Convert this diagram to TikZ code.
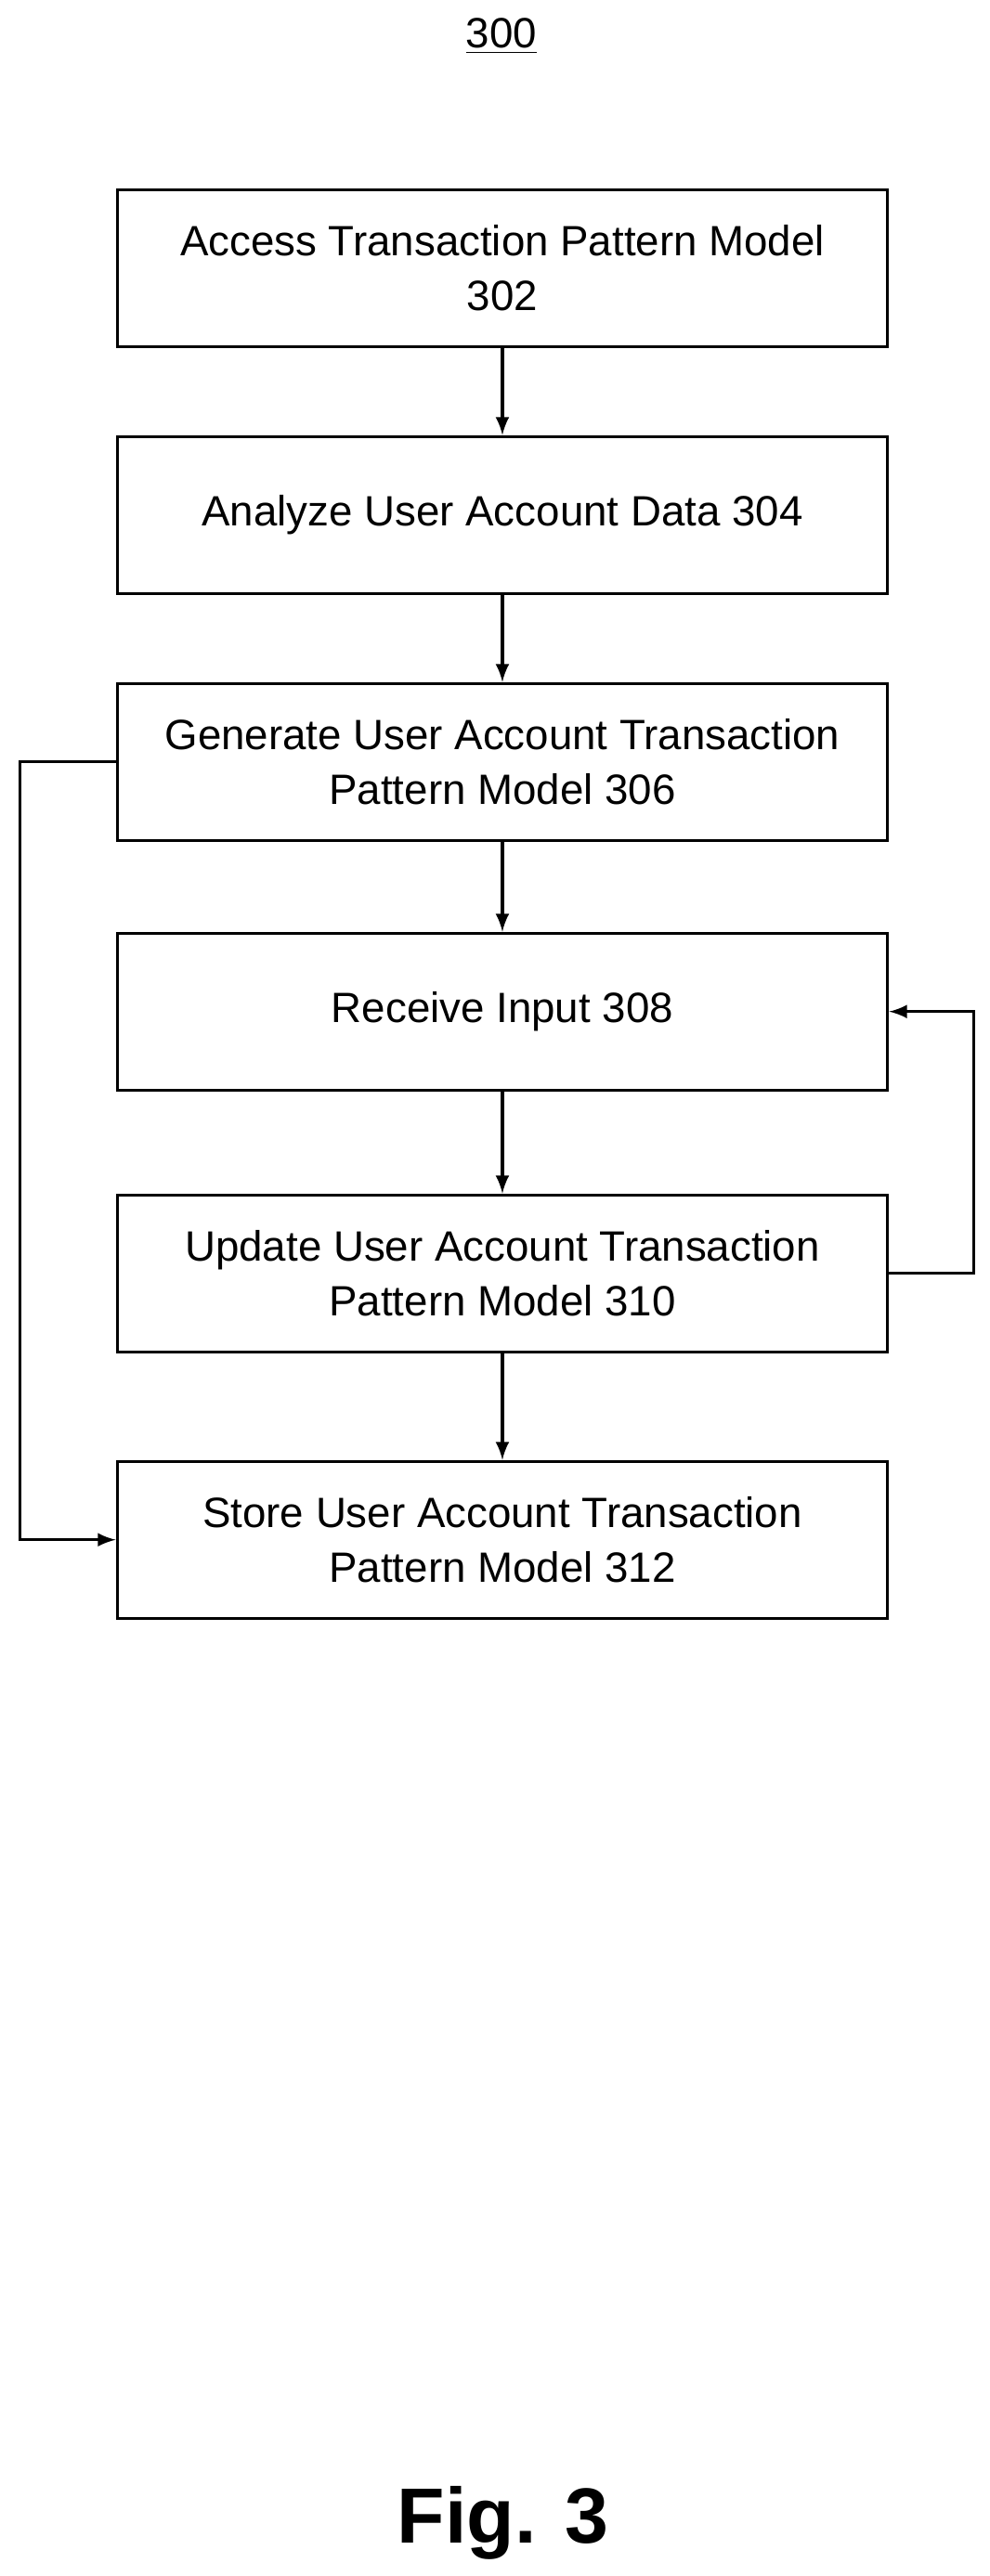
\documentclass[tikz,border=0pt]{standalone}
\usepackage{fontspec}
\setmainfont{Liberation Sans}
\usetikzlibrary{positioning}

\begin{document}
\begin{tikzpicture}[>=latex,x=0.01777cm,y=-0.01777cm,
  stepbox/.style={draw,line width=0.9pt,minimum width=8.3cm,minimum height=1.69cm,
    align=center,font=\fontsize{13}{17}\selectfont,inner sep=2pt},
  flow/.style={->,line width=0.9pt},
  node distance=0.94cm]
  \useasboundingbox (0,0) rectangle (600,1562);
  % label and steps
  \node[font=\fontsize{13}{16}\selectfont] (lbl) at (304,22) {\underline{300}};
  \node[stepbox] (s302) at (304.5,162.5) {Access Transaction Pattern Model\\302};
  \node[stepbox,below=of s302] (s304) {Analyze User Account Data 304};
  \node[stepbox,below=of s304] (s306) {Generate User Account Transaction\\Pattern Model 306};
  \node[stepbox,below=0.97cm of s306] (s308) {Receive Input 308};
  \node[stepbox,below=1.1cm of s308] (s310) {Update User Account Transaction\\Pattern Model 310};
  \node[stepbox,below=1.15cm of s310] (s312) {Store User Account Transaction\\Pattern Model 312};
  % connectors
  \draw[flow] (s302) -- (s304);
  \draw[flow] (s304) -- (s306);
  \draw[flow] (s306) -- (s308);
  \draw[flow] (s308) -- (s310);
  \draw[flow] (s310) -- (s312);
  \coordinate (lt) at (12,0);
  \coordinate (rt) at (590,0);
  \draw[flow] (s306.west) -- (s306.west -| lt) -- (s312.west -| lt) -- (s312.west);
  \draw[flow] (s310.east) -- (s310.east -| rt) -- (s308.east -| rt) -- (s308.east);
  \node[font=\bfseries\fontsize{24}{28}\selectfont] (fig) at (305,1530) {Fig. 3};
\end{tikzpicture}
\end{document}
